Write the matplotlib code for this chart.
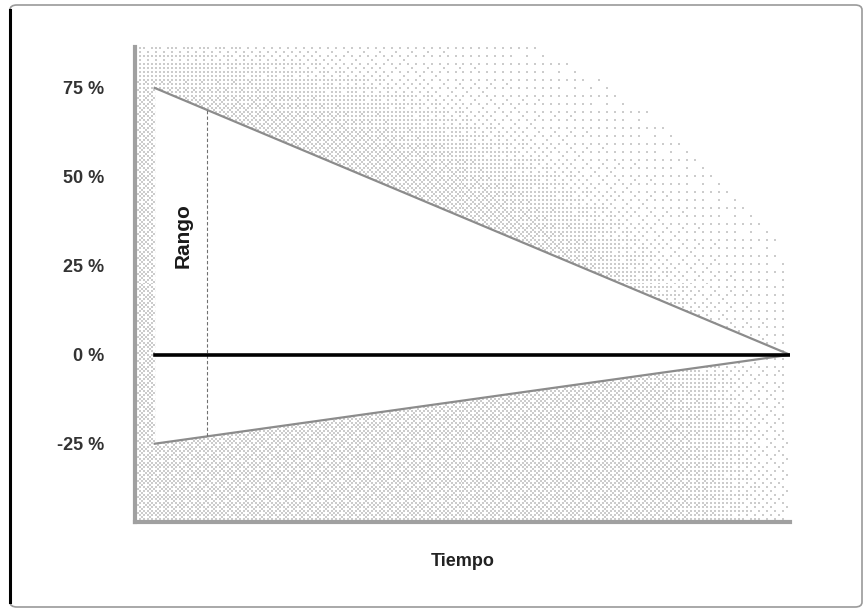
"""Cone chart: range of returns narrowing over time."""

import matplotlib
matplotlib.use("Agg")
import matplotlib.pyplot as plt
import numpy as np
from matplotlib.patches import FancyBboxPatch
from matplotlib.lines import Line2D

# data
time_points = [0.0, 10.0]
upper_bound = [75.0, 0.0]
lower_bound = [-25.0, 0.0]
zero_line = [0.0, 0.0]
range_x = 0.82
yticks = [-25, 0, 25, 50, 75]
ytick_labels = ["-25 %", "0 %", "25 %", "50 %", "75 %"]
x_label = "Tiempo"
range_label = "Rango"

XLIM = (-0.31, 10.0)
YLIM = (-47.0, 86.5)

plt.rcParams["font.family"] = ["Liberation Sans", "DejaVu Sans"]

fig = plt.figure(figsize=(8.64, 6.10), dpi=100)
ax = fig.add_axes([135 / 864, 1 - 522 / 610, 655 / 864, 475 / 610])

# stippled background, fading out radially from lower left (ordered dither, 2px cells)
bayer = np.array([[0, 2], [3, 1]])
for _ in range(2):
    bayer = np.block([[4 * bayer, 4 * bayer + 2], [4 * bayer + 3, 4 * bayer + 1]])
bayer = (bayer + 0.5) / bayer.size
h, w = 238, 328
dx = np.linspace(0, 655, w)[None, :]
dy = np.linspace(475, 0, h)[:, None]
r = np.sqrt((dx / 735) ** 2 + (dy / 565) ** 2)
dens = np.interp(r, [0, 0.74, 0.87, 1.0, 1.01], [0.42, 0.38, 0.1, 0.04, 0.0])
thr = np.tile(bayer, (h // 8 + 1, w // 8 + 1))[:h, :w]
tex = np.where(thr < dens, 0.80, 1.0)
tex = np.kron(tex, np.ones((2, 2)))
ax.imshow(tex, cmap="gray", vmin=0, vmax=1, extent=(XLIM[0], XLIM[1], YLIM[0], YLIM[1]),
          aspect="auto", interpolation="nearest", zorder=0)

# white cone
ax.fill_between(time_points, lower_bound, upper_bound, color="white", zorder=1, linewidth=0)
ax.plot(time_points, upper_bound, color="#8c8c8c", linewidth=1.6, zorder=2)
ax.plot(time_points, lower_bound, color="#8c8c8c", linewidth=1.6, zorder=2)
ax.plot(time_points, zero_line, color="black", linewidth=2.6, zorder=3)

# range marker
top = np.interp(range_x, time_points, upper_bound)
bot = np.interp(range_x, time_points, lower_bound)
ax.plot([range_x, range_x], [bot, top], color="#707070", linewidth=0.8,
        linestyle=(0, (3, 2)), zorder=2)
ax.text(0.44, 33.4, range_label, rotation=90, ha="center", va="center",
        fontsize=15, fontweight="bold", color="#1a1a1a")

ax.set_xlim(*XLIM)
ax.set_ylim(*YLIM)
ax.set_xticks([])
ax.set_yticks(yticks)
ax.set_yticklabels(ytick_labels, fontsize=13, fontweight="bold", color="#333333")
ax.tick_params(axis="y", length=0, pad=22)
ax.set_xlabel(x_label, fontsize=13, fontweight="bold", color="#222222", labelpad=22)
for side in ("top", "right"):
    ax.spines[side].set_visible(False)
for side in ("left", "bottom"):
    ax.spines[side].set_color("#a0a0a0")
    ax.spines[side].set_linewidth(3)

# outer frame
frame = FancyBboxPatch((10 / 864, 3 / 610), 852 / 864, 602 / 610,
                       boxstyle="round,pad=0,rounding_size=0.008",
                       transform=fig.transFigure, fill=False,
                       edgecolor="#9a9a9a", linewidth=1.2)
fig.patches.append(frame)
fig.lines.append(Line2D([10 / 864, 10 / 864], [8 / 610, 600 / 610], transform=fig.transFigure,
                        color="black", linewidth=2.2))

fig.savefig("out.png", dpi=100)
plt.close(fig)
